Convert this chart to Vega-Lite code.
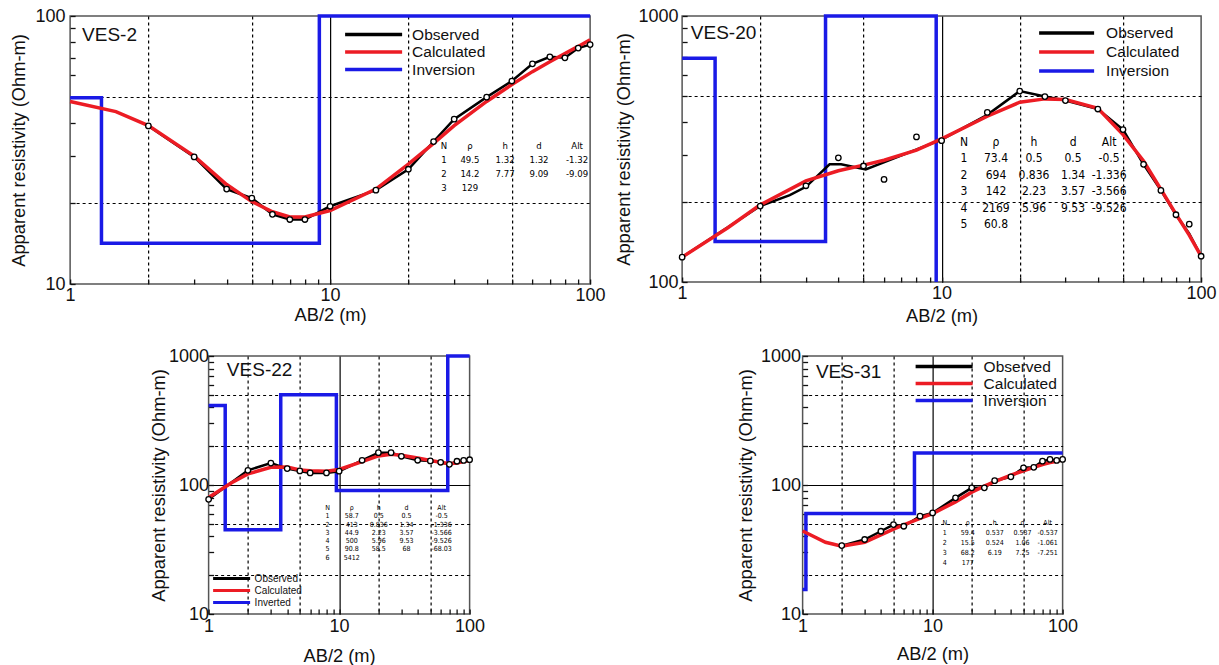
{
"$schema":"https://vega.github.io/schema/vega-lite/v6.json",
"padding":{"left":8,"top":6,"right":2,"bottom":2},
"background":"white",
"config":{"font":"Liberation Sans","view":{"stroke":"#555","strokeWidth":1.5},"axis":{"labelFontSize":18,"titleFontSize":18.3,"titleFontWeight":"normal","labelColor":"#111","titleColor":"#111","labelFont":"Liberation Sans","titleFont":"Liberation Sans","tickColor":"#111","tickWidth":1.3}},
"resolve":{"scale":{"color":"independent"},"legend":{"color":"independent"}},
"datasets":{
"d1":[
{"s":"Observed","x":2,"y":38.9},{"s":"Observed","x":3,"y":29.8},{"s":"Observed","x":4,"y":22.6},{"s":"Observed","x":5,"y":20.9},{"s":"Observed","x":6,"y":18.2},{"s":"Observed","x":7,"y":17.4},{"s":"Observed","x":8,"y":17.4},{"s":"Observed","x":10,"y":19.5},{"s":"Observed","x":15,"y":22.4},{"s":"Observed","x":20,"y":26.8},{"s":"Observed","x":25,"y":34},{"s":"Observed","x":30,"y":41.2},{"s":"Observed","x":40,"y":49.8},{"s":"Observed","x":50,"y":57.2},{"s":"Observed","x":60,"y":66.3},{"s":"Observed","x":70,"y":70.4},{"s":"Observed","x":80,"y":69.8},{"s":"Observed","x":90,"y":75.9},{"s":"Observed","x":100,"y":78.2},
{"s":"Calculated","x":1,"y":48},{"s":"Calculated","x":1.5,"y":44},{"s":"Calculated","x":2,"y":39},{"s":"Calculated","x":3,"y":30},{"s":"Calculated","x":4,"y":23.5},{"s":"Calculated","x":5,"y":20.3},{"s":"Calculated","x":6,"y":18.6},{"s":"Calculated","x":7,"y":17.8},{"s":"Calculated","x":8,"y":17.8},{"s":"Calculated","x":10,"y":18.8},{"s":"Calculated","x":15,"y":22.6},{"s":"Calculated","x":20,"y":28},{"s":"Calculated","x":25,"y":33.5},{"s":"Calculated","x":30,"y":39},{"s":"Calculated","x":40,"y":48},{"s":"Calculated","x":50,"y":55.5},{"s":"Calculated","x":60,"y":62},{"s":"Calculated","x":70,"y":67.5},{"s":"Calculated","x":80,"y":72.5},{"s":"Calculated","x":90,"y":77},{"s":"Calculated","x":100,"y":81.5},
{"s":"Inversion","x":1,"y":49.5},{"s":"Inversion","x":1.32,"y":14.2},{"s":"Inversion","x":9.09,"y":129},{"s":"Inversion","x":100,"y":129}
],
"d2":[
{"s":"Observed","x":1,"y":124},{"s":"Observed","x":2,"y":193},{"s":"Observed","x":2.6,"y":212},{"s":"Observed","x":3,"y":228},{"s":"Observed","x":3.7,"y":277},{"s":"Observed","x":4.1,"y":277},{"s":"Observed","x":5.1,"y":265},{"s":"Observed","x":10,"y":343},{"s":"Observed","x":15,"y":425},{"s":"Observed","x":20,"y":522},{"s":"Observed","x":25,"y":498},{"s":"Observed","x":30,"y":481},{"s":"Observed","x":40,"y":447},{"s":"Observed","x":50,"y":374},{"s":"Observed","x":60,"y":277},{"s":"Observed","x":70,"y":221},{"s":"Observed","x":80,"y":179},{"s":"Observed","x":90,"y":152},{"s":"Observed","x":100,"y":125},
{"s":"Observed points","x":1,"y":124},{"s":"Observed points","x":2,"y":193},{"s":"Observed points","x":3,"y":230},{"s":"Observed points","x":4,"y":293},{"s":"Observed points","x":5,"y":273},{"s":"Observed points","x":6,"y":243},{"s":"Observed points","x":8,"y":351},{"s":"Observed points","x":10,"y":340},{"s":"Observed points","x":15,"y":434},{"s":"Observed points","x":20,"y":522},{"s":"Observed points","x":25,"y":498},{"s":"Observed points","x":30,"y":481},{"s":"Observed points","x":40,"y":447},{"s":"Observed points","x":50,"y":374},{"s":"Observed points","x":60,"y":277},{"s":"Observed points","x":70,"y":221},{"s":"Observed points","x":80,"y":179},{"s":"Observed points","x":90,"y":165},{"s":"Observed points","x":100,"y":125},
{"s":"Calculated","x":1,"y":124},{"s":"Calculated","x":1.5,"y":160},{"s":"Calculated","x":2,"y":195},{"s":"Calculated","x":3,"y":240},{"s":"Calculated","x":4,"y":262},{"s":"Calculated","x":5,"y":275},{"s":"Calculated","x":6,"y":287},{"s":"Calculated","x":8,"y":313},{"s":"Calculated","x":10,"y":345},{"s":"Calculated","x":15,"y":420},{"s":"Calculated","x":20,"y":474},{"s":"Calculated","x":25,"y":488},{"s":"Calculated","x":30,"y":485},{"s":"Calculated","x":40,"y":450},{"s":"Calculated","x":50,"y":358},{"s":"Calculated","x":60,"y":285},{"s":"Calculated","x":70,"y":223},{"s":"Calculated","x":80,"y":180},{"s":"Calculated","x":90,"y":150},{"s":"Calculated","x":100,"y":125},
{"s":"Inversion","x":1,"y":694},{"s":"Inversion","x":1.34,"y":142},{"s":"Inversion","x":3.57,"y":2169},{"s":"Inversion","x":9.53,"y":60.8}
],
"d3":[
{"s":"Observed","x":1,"y":77.4},{"s":"Observed","x":2,"y":130},{"s":"Observed","x":3,"y":148},{"s":"Observed","x":4,"y":134},{"s":"Observed","x":5,"y":128.5},{"s":"Observed","x":6,"y":124},{"s":"Observed","x":8,"y":124},{"s":"Observed","x":10,"y":128},{"s":"Observed","x":15,"y":155.5},{"s":"Observed","x":20,"y":178},{"s":"Observed","x":25,"y":178},{"s":"Observed","x":30,"y":167},{"s":"Observed","x":40,"y":155.5},{"s":"Observed","x":50,"y":153.6},{"s":"Observed","x":60,"y":150},{"s":"Observed","x":70,"y":144.6},{"s":"Observed","x":80,"y":152.8},{"s":"Observed","x":90,"y":155},{"s":"Observed","x":100,"y":157},
{"s":"Calculated","x":1,"y":80},{"s":"Calculated","x":1.5,"y":104},{"s":"Calculated","x":2,"y":122},{"s":"Calculated","x":3,"y":137},{"s":"Calculated","x":4,"y":138},{"s":"Calculated","x":5,"y":131},{"s":"Calculated","x":6,"y":129},{"s":"Calculated","x":8,"y":128},{"s":"Calculated","x":10,"y":132},{"s":"Calculated","x":15,"y":152},{"s":"Calculated","x":20,"y":168},{"s":"Calculated","x":25,"y":173},{"s":"Calculated","x":30,"y":170},{"s":"Calculated","x":40,"y":162},{"s":"Calculated","x":50,"y":155},{"s":"Calculated","x":60,"y":150},{"s":"Calculated","x":70,"y":146},{"s":"Calculated","x":80,"y":148},{"s":"Calculated","x":90,"y":152},{"s":"Calculated","x":100,"y":155},
{"s":"Inverted","x":1,"y":413},{"s":"Inverted","x":1.34,"y":44.9},{"s":"Inverted","x":3.57,"y":500},{"s":"Inverted","x":9.53,"y":90.8},{"s":"Inverted","x":68,"y":5412},{"s":"Inverted","x":100,"y":5412}
],
"d4":[
{"s":"Observed","x":2,"y":33.9},{"s":"Observed","x":3,"y":37.8},{"s":"Observed","x":4,"y":43.8},{"s":"Observed","x":5,"y":49.3},{"s":"Observed","x":6,"y":47.9},{"s":"Observed","x":8,"y":57.3},{"s":"Observed","x":10,"y":60.8},{"s":"Observed","x":15,"y":79.5},{"s":"Observed","x":20,"y":95},{"s":"Observed","x":25,"y":95},{"s":"Observed","x":30,"y":108},{"s":"Observed","x":40,"y":115.7},{"s":"Observed","x":50,"y":136},{"s":"Observed","x":60,"y":137},{"s":"Observed","x":70,"y":153},{"s":"Observed","x":80,"y":157.8},{"s":"Observed","x":90,"y":155},{"s":"Observed","x":100,"y":157.8},
{"s":"Calculated","x":1,"y":44},{"s":"Calculated","x":1.5,"y":36},{"s":"Calculated","x":2,"y":33.5},{"s":"Calculated","x":3,"y":36},{"s":"Calculated","x":4,"y":41},{"s":"Calculated","x":5,"y":45.5},{"s":"Calculated","x":6,"y":49},{"s":"Calculated","x":8,"y":55},{"s":"Calculated","x":10,"y":60},{"s":"Calculated","x":15,"y":74},{"s":"Calculated","x":20,"y":88},{"s":"Calculated","x":25,"y":98},{"s":"Calculated","x":30,"y":106},{"s":"Calculated","x":40,"y":119},{"s":"Calculated","x":50,"y":129},{"s":"Calculated","x":60,"y":137},{"s":"Calculated","x":70,"y":144},{"s":"Calculated","x":80,"y":149},{"s":"Calculated","x":90,"y":153},{"s":"Calculated","x":100,"y":157},
{"s":"Inversion","x":1,"y":15.5},{"s":"Inversion","x":1.06,"y":60},{"s":"Inversion","x":7.25,"y":177},{"s":"Inversion","x":100,"y":177}
],
"tab":[
{"p":"VES-2","c":"N","t":"N\n1\n2\n3"},{"p":"VES-2","c":"rho","t":"ρ\n49.5\n14.2\n129"},{"p":"VES-2","c":"h","t":"h\n1.32\n7.77"},{"p":"VES-2","c":"d","t":"d\n1.32\n9.09"},{"p":"VES-2","c":"Alt","t":"Alt\n-1.32\n-9.09"},
{"p":"VES-20","c":"N","t":"N\n1\n2\n3\n4\n5"},{"p":"VES-20","c":"rho","t":"ρ\n73.4\n694\n142\n2169\n60.8"},{"p":"VES-20","c":"h","t":"h\n0.5\n0.836\n2.23\n5.96"},{"p":"VES-20","c":"d","t":"d\n0.5\n1.34\n3.57\n9.53"},{"p":"VES-20","c":"Alt","t":"Alt\n-0.5\n-1.336\n-3.566\n-9.526"},
{"p":"VES-22","c":"N","t":"N\n1\n2\n3\n4\n5\n6"},{"p":"VES-22","c":"rho","t":"ρ\n58.7\n413\n44.9\n500\n90.8\n5412"},{"p":"VES-22","c":"h","t":"h\n0.5\n0.836\n2.23\n5.96\n58.5"},{"p":"VES-22","c":"d","t":"d\n0.5\n1.34\n3.57\n9.53\n68"},{"p":"VES-22","c":"Alt","t":"Alt\n-0.5\n-1.336\n-3.566\n-9.526\n-68.03"},
{"p":"VES-31","c":"N","t":"N\n1\n2\n3\n4"},{"p":"VES-31","c":"rho","t":"ρ\n59.4\n15.5\n68.2\n177"},{"p":"VES-31","c":"h","t":"h\n0.537\n0.524\n6.19"},{"p":"VES-31","c":"d","t":"d\n0.537\n1.06\n7.25"},{"p":"VES-31","c":"Alt","t":"Alt\n-0.537\n-1.061\n-7.251"}
],
"names":[{"n":"VES-2"},{"n":"VES-20"},{"n":"VES-22"},{"n":"VES-31"}]
},
"vconcat":[
{"hconcat":[
{"width":520,"height":268,
"layer":[
{"data":{"name":"d1"},"transform":[{"filter":"datum.s=='Inversion'"}],"mark":{"type":"line","interpolate":"step-after","strokeWidth":3.5},"encoding":{
"x":{"field":"x","type":"quantitative","scale":{"type":"log","domain":[1,100],"nice":false},"axis":{"title":"AB/2 (m)","values":[1,2,3,4,5,6,7,8,9,10,20,30,40,50,60,70,80,90,100],"labelExpr":"indexof([1,10,100],datum.value)>=0 ? ''+datum.value : ''","labelFlush":false,"labelOverlap":false,"grid":true,"gridColor":"#000","gridWidth":1.2,"gridOpacity":{"condition":{"test":"indexof([2,5,10,20,50],datum.value)>=0","value":1},"value":0},"gridDash":{"condition":{"test":"datum.value==10","value":[]},"value":[3,3]},"tickSize":-5,"labelPadding":7,"titlePadding":2,"domain":false}},
"y":{"field":"y","type":"quantitative","scale":{"type":"log","domain":[10,100],"nice":false,"clamp":true},"axis":{"title":"Apparent resistivity (Ohm-m)","values":[10,20,30,40,50,60,70,80,90,100],"labelExpr":"indexof([10,100,1000],datum.value)>=0 ? ''+datum.value : ''","labelFlush":false,"labelOverlap":false,"grid":true,"gridColor":"#000","gridWidth":1.2,"gridOpacity":{"condition":{"test":"indexof([20,50,200,500],datum.value)>=0","value":1},"value":0},"gridDash":[3,3],"tickSize":-5,"labelPadding":10,"titlePadding":7,"domain":false}},
"color":{"field":"s","type":"nominal","scale":{"domain":["Observed","Calculated","Inversion"],"range":["#000000","#ec1c24","#1a1ae6"]},"legend":{"orient":"none","legendX":273,"legendY":11,"title":null,"symbolType":"stroke","symbolSize":3249,"symbolStrokeWidth":3.5,"clipHeight":15,"rowPadding":1.5,"labelFontSize":15.5,"labelOffset":8,"labelColor":"#111","padding":0}}}},
{"data":{"name":"d1"},"transform":[{"filter":"datum.s=='Observed'"}],"mark":{"type":"line","strokeWidth":2.5},"encoding":{"x":{"field":"x","type":"quantitative","scale":{"type":"log","domain":[1,100],"nice":false}},"y":{"field":"y","type":"quantitative","scale":{"type":"log","domain":[10,100],"nice":false,"clamp":true}},"color":{"field":"s","type":"nominal","scale":{"domain":["Observed","Calculated","Inversion"],"range":["#000000","#ec1c24","#1a1ae6"]}}}},
{"data":{"name":"d1"},"transform":[{"filter":"datum.s=='Calculated'"}],"mark":{"type":"line","strokeWidth":3.5},"encoding":{"x":{"field":"x","type":"quantitative","scale":{"type":"log","domain":[1,100],"nice":false}},"y":{"field":"y","type":"quantitative","scale":{"type":"log","domain":[10,100],"nice":false,"clamp":true}},"color":{"field":"s","type":"nominal","scale":{"domain":["Observed","Calculated","Inversion"],"range":["#000000","#ec1c24","#1a1ae6"]}}}},
{"data":{"name":"d1"},"transform":[{"filter":"datum.s=='Observed'"}],"mark":{"type":"point","shape":"circle","filled":true,"fill":"#ffffff","stroke":"#000000","strokeWidth":1.3,"size":30,"opacity":1},"encoding":{"x":{"field":"x","type":"quantitative","scale":{"type":"log","domain":[1,100],"nice":false}},"y":{"field":"y","type":"quantitative","scale":{"type":"log","domain":[10,100],"nice":false,"clamp":true}}}},
{"data":{"name":"names"},"transform":[{"filter":"datum.n=='VES-2'"}],"mark":{"type":"text","fontSize":19,"align":"left","baseline":"middle","color":"#111","opacity":1},"encoding":{"x":{"datum":1.112},"y":{"datum":84.9},"text":{"field":"n","type":"nominal"}}},
{"data":{"name":"tab"},"transform":[{"filter":"datum.p=='VES-2' && datum.c=='N'"}],"mark":{"type":"text","font":"DejaVu Sans Condensed, Liberation Sans, sans-serif","fontSize":9.5,"lineHeight":14,"lineBreak":"\n","align":"center","baseline":"top","color":"#000"},"encoding":{"x":{"datum":27.4},"y":{"datum":34.2},"text":{"field":"t","type":"nominal"}}},
{"data":{"name":"tab"},"transform":[{"filter":"datum.p=='VES-2' && datum.c=='rho'"}],"mark":{"type":"text","font":"DejaVu Sans Condensed, Liberation Sans, sans-serif","fontSize":9.5,"lineHeight":14,"lineBreak":"\n","align":"center","baseline":"top","color":"#000"},"encoding":{"x":{"datum":34.5},"y":{"datum":34.2},"text":{"field":"t","type":"nominal"}}},
{"data":{"name":"tab"},"transform":[{"filter":"datum.p=='VES-2' && datum.c=='h'"}],"mark":{"type":"text","font":"DejaVu Sans Condensed, Liberation Sans, sans-serif","fontSize":9.5,"lineHeight":14,"lineBreak":"\n","align":"center","baseline":"top","color":"#000"},"encoding":{"x":{"datum":47.1},"y":{"datum":34.2},"text":{"field":"t","type":"nominal"}}},
{"data":{"name":"tab"},"transform":[{"filter":"datum.p=='VES-2' && datum.c=='d'"}],"mark":{"type":"text","font":"DejaVu Sans Condensed, Liberation Sans, sans-serif","fontSize":9.5,"lineHeight":14,"lineBreak":"\n","align":"center","baseline":"top","color":"#000"},"encoding":{"x":{"datum":63.6},"y":{"datum":34.2},"text":{"field":"t","type":"nominal"}}},
{"data":{"name":"tab"},"transform":[{"filter":"datum.p=='VES-2' && datum.c=='Alt'"}],"mark":{"type":"text","font":"DejaVu Sans Condensed, Liberation Sans, sans-serif","fontSize":9.5,"lineHeight":14,"lineBreak":"\n","align":"center","baseline":"top","color":"#000"},"encoding":{"x":{"datum":89.1},"y":{"datum":34.2},"text":{"field":"t","type":"nominal"}}}
]},
{"width":519,"height":266,
"layer":[
{"data":{"name":"d2"},"transform":[{"filter":"datum.s=='Inversion'"}],"mark":{"type":"line","interpolate":"step-after","strokeWidth":3.5},"encoding":{
"x":{"field":"x","type":"quantitative","scale":{"type":"log","domain":[1,100],"nice":false},"axis":{"title":"AB/2 (m)","values":[1,2,3,4,5,6,7,8,9,10,20,30,40,50,60,70,80,90,100],"labelExpr":"indexof([1,10,100],datum.value)>=0 ? ''+datum.value : ''","labelFlush":false,"labelOverlap":false,"grid":true,"gridColor":"#000","gridWidth":1.2,"gridOpacity":{"condition":{"test":"indexof([2,5,10,20,50],datum.value)>=0","value":1},"value":0},"gridDash":{"condition":{"test":"datum.value==10","value":[]},"value":[3,3]},"tickSize":-5,"labelPadding":7,"titlePadding":5,"domain":false}},
"y":{"field":"y","type":"quantitative","scale":{"type":"log","domain":[100,1000],"nice":false,"clamp":true},"axis":{"title":"Apparent resistivity (Ohm-m)","values":[100,200,300,400,500,600,700,800,900,1000],"labelExpr":"indexof([10,100,1000],datum.value)>=0 ? ''+datum.value : ''","labelFlush":false,"labelOverlap":false,"grid":true,"gridColor":"#000","gridWidth":1.2,"gridOpacity":{"condition":{"test":"indexof([20,50,200,500],datum.value)>=0","value":1},"value":0},"gridDash":[3,3],"tickSize":-5,"labelPadding":9,"titlePadding":5,"domain":false}},
"color":{"field":"s","type":"nominal","scale":{"domain":["Observed","Calculated","Inversion"],"range":["#000000","#ec1c24","#1a1ae6"]},"legend":{"orient":"none","legendX":355,"legendY":9,"title":null,"symbolType":"stroke","symbolSize":3025,"symbolStrokeWidth":3.5,"clipHeight":16,"rowPadding":2,"labelFontSize":15.5,"labelOffset":10,"labelColor":"#111","padding":0}}}},
{"data":{"name":"d2"},"transform":[{"filter":"datum.s=='Observed'"}],"mark":{"type":"line","strokeWidth":2.5},"encoding":{"x":{"field":"x","type":"quantitative","scale":{"type":"log","domain":[1,100],"nice":false}},"y":{"field":"y","type":"quantitative","scale":{"type":"log","domain":[100,1000],"nice":false,"clamp":true}},"color":{"field":"s","type":"nominal","scale":{"domain":["Observed","Calculated","Inversion"],"range":["#000000","#ec1c24","#1a1ae6"]}}}},
{"data":{"name":"d2"},"transform":[{"filter":"datum.s=='Calculated'"}],"mark":{"type":"line","strokeWidth":3.5},"encoding":{"x":{"field":"x","type":"quantitative","scale":{"type":"log","domain":[1,100],"nice":false}},"y":{"field":"y","type":"quantitative","scale":{"type":"log","domain":[100,1000],"nice":false,"clamp":true}},"color":{"field":"s","type":"nominal","scale":{"domain":["Observed","Calculated","Inversion"],"range":["#000000","#ec1c24","#1a1ae6"]}}}},
{"data":{"name":"d2"},"transform":[{"filter":"datum.s=='Observed points'"}],"mark":{"type":"point","shape":"circle","filled":true,"fill":"#ffffff","stroke":"#000000","strokeWidth":1.3,"size":30,"opacity":1},"encoding":{"x":{"field":"x","type":"quantitative","scale":{"type":"log","domain":[1,100],"nice":false}},"y":{"field":"y","type":"quantitative","scale":{"type":"log","domain":[100,1000],"nice":false,"clamp":true}}}},
{"data":{"name":"names"},"transform":[{"filter":"datum.n=='VES-20'"}],"mark":{"type":"text","fontSize":19,"align":"left","baseline":"middle","color":"#111","opacity":1},"encoding":{"x":{"datum":1.08},"y":{"datum":863},"text":{"field":"n","type":"nominal"}}},
{"data":{"name":"tab"},"transform":[{"filter":"datum.p=='VES-20' && datum.c=='N'"}],"mark":{"type":"text","font":"DejaVu Sans Condensed, Liberation Sans, sans-serif","fontSize":12,"lineHeight":16.5,"lineBreak":"\n","align":"center","baseline":"top","color":"#000"},"encoding":{"x":{"datum":12.2},"y":{"datum":352},"text":{"field":"t","type":"nominal"}}},
{"data":{"name":"tab"},"transform":[{"filter":"datum.p=='VES-20' && datum.c=='rho'"}],"mark":{"type":"text","font":"DejaVu Sans Condensed, Liberation Sans, sans-serif","fontSize":12,"lineHeight":16.5,"lineBreak":"\n","align":"center","baseline":"top","color":"#000"},"encoding":{"x":{"datum":16.2},"y":{"datum":352},"text":{"field":"t","type":"nominal"}}},
{"data":{"name":"tab"},"transform":[{"filter":"datum.p=='VES-20' && datum.c=='h'"}],"mark":{"type":"text","font":"DejaVu Sans Condensed, Liberation Sans, sans-serif","fontSize":12,"lineHeight":16.5,"lineBreak":"\n","align":"center","baseline":"top","color":"#000"},"encoding":{"x":{"datum":22.7},"y":{"datum":352},"text":{"field":"t","type":"nominal"}}},
{"data":{"name":"tab"},"transform":[{"filter":"datum.p=='VES-20' && datum.c=='d'"}],"mark":{"type":"text","font":"DejaVu Sans Condensed, Liberation Sans, sans-serif","fontSize":12,"lineHeight":16.5,"lineBreak":"\n","align":"center","baseline":"top","color":"#000"},"encoding":{"x":{"datum":32.1},"y":{"datum":352},"text":{"field":"t","type":"nominal"}}},
{"data":{"name":"tab"},"transform":[{"filter":"datum.p=='VES-20' && datum.c=='Alt'"}],"mark":{"type":"text","font":"DejaVu Sans Condensed, Liberation Sans, sans-serif","fontSize":12,"lineHeight":16.5,"lineBreak":"\n","align":"center","baseline":"top","color":"#000"},"encoding":{"x":{"datum":44.2},"y":{"datum":352},"text":{"field":"t","type":"nominal"}}}
]}
],"spacing":7,"resolve":{"scale":{"color":"independent"},"legend":{"color":"independent"}}},
{"hconcat":[
{"width":261,"height":258,
"layer":[
{"data":{"name":"d3"},"transform":[{"filter":"datum.s=='Inverted'"}],"mark":{"type":"line","interpolate":"step-after","strokeWidth":3.5},"encoding":{
"x":{"field":"x","type":"quantitative","scale":{"type":"log","domain":[1,100],"nice":false},"axis":{"title":"AB/2 (m)","values":[1,2,3,4,5,6,7,8,9,10,20,30,40,50,60,70,80,90,100],"labelExpr":"indexof([1,10,100],datum.value)>=0 ? ''+datum.value : ''","labelFlush":false,"labelOverlap":false,"grid":true,"gridColor":"#000","gridWidth":1.2,"gridOpacity":{"condition":{"test":"indexof([2,5,10,20,50],datum.value)>=0","value":1},"value":0},"gridDash":{"condition":{"test":"datum.value==10","value":[]},"value":[3,3]},"tickSize":-5,"labelPadding":8,"titlePadding":12,"domain":false}},
"y":{"field":"y","type":"quantitative","scale":{"type":"log","domain":[10,1000],"nice":false,"clamp":true},"axis":{"title":"Apparent resistivity (Ohm-m)","values":[10,20,30,40,50,60,70,80,90,100,200,300,400,500,600,700,800,900,1000],"labelExpr":"indexof([10,100,1000],datum.value)>=0 ? ''+datum.value : ''","labelFlush":false,"labelOverlap":false,"grid":true,"gridColor":"#000","gridWidth":1.2,"gridOpacity":{"condition":{"test":"indexof([20,50,100,200,500],datum.value)>=0","value":1},"value":0},"gridDash":{"condition":{"test":"datum.value==100","value":[]},"value":[3,3]},"tickSize":-5,"labelPadding":5,"titlePadding":0,"domain":false}},
"color":{"field":"s","type":"nominal","scale":{"domain":["Observed","Calculated","Inverted"],"range":["#000000","#ec1c24","#1a1ae6"]},"legend":{"orient":"none","legendX":3,"legendY":217,"title":null,"symbolType":"stroke","symbolSize":1369,"symbolStrokeWidth":3,"clipHeight":11,"rowPadding":1,"labelFontSize":10,"labelOffset":3,"labelColor":"#111","padding":0}}}},
{"data":{"name":"d3"},"transform":[{"filter":"datum.s=='Observed'"}],"mark":{"type":"line","strokeWidth":2.5},"encoding":{"x":{"field":"x","type":"quantitative","scale":{"type":"log","domain":[1,100],"nice":false}},"y":{"field":"y","type":"quantitative","scale":{"type":"log","domain":[10,1000],"nice":false,"clamp":true}},"color":{"field":"s","type":"nominal","scale":{"domain":["Observed","Calculated","Inverted"],"range":["#000000","#ec1c24","#1a1ae6"]}}}},
{"data":{"name":"d3"},"transform":[{"filter":"datum.s=='Calculated'"}],"mark":{"type":"line","strokeWidth":3.5},"encoding":{"x":{"field":"x","type":"quantitative","scale":{"type":"log","domain":[1,100],"nice":false}},"y":{"field":"y","type":"quantitative","scale":{"type":"log","domain":[10,1000],"nice":false,"clamp":true}},"color":{"field":"s","type":"nominal","scale":{"domain":["Observed","Calculated","Inverted"],"range":["#000000","#ec1c24","#1a1ae6"]}}}},
{"data":{"name":"d3"},"transform":[{"filter":"datum.s=='Observed'"}],"mark":{"type":"point","shape":"circle","filled":true,"fill":"#ffffff","stroke":"#000000","strokeWidth":1.3,"size":30,"opacity":1},"encoding":{"x":{"field":"x","type":"quantitative","scale":{"type":"log","domain":[1,100],"nice":false}},"y":{"field":"y","type":"quantitative","scale":{"type":"log","domain":[10,1000],"nice":false,"clamp":true}}}},
{"data":{"name":"names"},"transform":[{"filter":"datum.n=='VES-22'"}],"mark":{"type":"text","fontSize":19,"align":"left","baseline":"middle","color":"#111","opacity":1},"encoding":{"x":{"datum":1.38},"y":{"datum":778},"text":{"field":"n","type":"nominal"}}},
{"data":{"name":"tab"},"transform":[{"filter":"datum.p=='VES-22' && datum.c=='N'"}],"mark":{"type":"text","font":"DejaVu Sans Condensed, Liberation Sans, sans-serif","fontSize":7,"lineHeight":8.3,"lineBreak":"\n","align":"center","baseline":"top","color":"#000"},"encoding":{"x":{"datum":8.16},"y":{"datum":71.3},"text":{"field":"t","type":"nominal"}}},
{"data":{"name":"tab"},"transform":[{"filter":"datum.p=='VES-22' && datum.c=='rho'"}],"mark":{"type":"text","font":"DejaVu Sans Condensed, Liberation Sans, sans-serif","fontSize":7,"lineHeight":8.3,"lineBreak":"\n","align":"center","baseline":"top","color":"#000"},"encoding":{"x":{"datum":12.5},"y":{"datum":71.3},"text":{"field":"t","type":"nominal"}}},
{"data":{"name":"tab"},"transform":[{"filter":"datum.p=='VES-22' && datum.c=='h'"}],"mark":{"type":"text","font":"DejaVu Sans Condensed, Liberation Sans, sans-serif","fontSize":7,"lineHeight":8.3,"lineBreak":"\n","align":"center","baseline":"top","color":"#000"},"encoding":{"x":{"datum":20.1},"y":{"datum":71.3},"text":{"field":"t","type":"nominal"}}},
{"data":{"name":"tab"},"transform":[{"filter":"datum.p=='VES-22' && datum.c=='d'"}],"mark":{"type":"text","font":"DejaVu Sans Condensed, Liberation Sans, sans-serif","fontSize":7,"lineHeight":8.3,"lineBreak":"\n","align":"center","baseline":"top","color":"#000"},"encoding":{"x":{"datum":32.9},"y":{"datum":71.3},"text":{"field":"t","type":"nominal"}}},
{"data":{"name":"tab"},"transform":[{"filter":"datum.p=='VES-22' && datum.c=='Alt'"}],"mark":{"type":"text","font":"DejaVu Sans Condensed, Liberation Sans, sans-serif","fontSize":7,"lineHeight":8.3,"lineBreak":"\n","align":"center","baseline":"top","color":"#000"},"encoding":{"x":{"datum":61},"y":{"datum":71.3},"text":{"field":"t","type":"nominal"}}}
]},
{"width":260,"height":258,
"layer":[
{"data":{"name":"d4"},"transform":[{"filter":"datum.s=='Inversion'"}],"mark":{"type":"line","interpolate":"step-after","strokeWidth":3.5},"encoding":{
"x":{"field":"x","type":"quantitative","scale":{"type":"log","domain":[1,100],"nice":false},"axis":{"title":"AB/2 (m)","values":[1,2,3,4,5,6,7,8,9,10,20,30,40,50,60,70,80,90,100],"labelExpr":"indexof([1,10,100],datum.value)>=0 ? ''+datum.value : ''","labelFlush":false,"labelOverlap":false,"grid":true,"gridColor":"#000","gridWidth":1.2,"gridOpacity":{"condition":{"test":"indexof([2,5,10,20,50],datum.value)>=0","value":1},"value":0},"gridDash":{"condition":{"test":"datum.value==10","value":[]},"value":[3,3]},"tickSize":-5,"labelPadding":8,"titlePadding":10,"domain":false}},
"y":{"field":"y","type":"quantitative","scale":{"type":"log","domain":[10,1000],"nice":false,"clamp":true},"axis":{"title":"Apparent resistivity (Ohm-m)","values":[10,20,30,40,50,60,70,80,90,100,200,300,400,500,600,700,800,900,1000],"labelExpr":"indexof([10,100,1000],datum.value)>=0 ? ''+datum.value : ''","labelFlush":false,"labelOverlap":false,"grid":true,"gridColor":"#000","gridWidth":1.2,"gridOpacity":{"condition":{"test":"indexof([20,50,100,200,500],datum.value)>=0","value":1},"value":0},"gridDash":{"condition":{"test":"datum.value==100","value":[]},"value":[3,3]},"tickSize":-5,"labelPadding":7,"titlePadding":5,"domain":false}},
"color":{"field":"s","type":"nominal","scale":{"domain":["Observed","Calculated","Inversion"],"range":["#000000","#ec1c24","#1a1ae6"]},"legend":{"orient":"none","legendX":111,"legendY":3,"title":null,"symbolType":"stroke","symbolSize":3249,"symbolStrokeWidth":3.5,"clipHeight":15,"rowPadding":1,"labelFontSize":15.5,"labelOffset":9,"labelColor":"#111","padding":0}}}},
{"data":{"name":"d4"},"transform":[{"filter":"datum.s=='Observed'"}],"mark":{"type":"line","strokeWidth":2.5},"encoding":{"x":{"field":"x","type":"quantitative","scale":{"type":"log","domain":[1,100],"nice":false}},"y":{"field":"y","type":"quantitative","scale":{"type":"log","domain":[10,1000],"nice":false,"clamp":true}},"color":{"field":"s","type":"nominal","scale":{"domain":["Observed","Calculated","Inversion"],"range":["#000000","#ec1c24","#1a1ae6"]}}}},
{"data":{"name":"d4"},"transform":[{"filter":"datum.s=='Calculated'"}],"mark":{"type":"line","strokeWidth":3.5},"encoding":{"x":{"field":"x","type":"quantitative","scale":{"type":"log","domain":[1,100],"nice":false}},"y":{"field":"y","type":"quantitative","scale":{"type":"log","domain":[10,1000],"nice":false,"clamp":true}},"color":{"field":"s","type":"nominal","scale":{"domain":["Observed","Calculated","Inversion"],"range":["#000000","#ec1c24","#1a1ae6"]}}}},
{"data":{"name":"d4"},"transform":[{"filter":"datum.s=='Observed'"}],"mark":{"type":"point","shape":"circle","filled":true,"fill":"#ffffff","stroke":"#000000","strokeWidth":1.3,"size":30,"opacity":1},"encoding":{"x":{"field":"x","type":"quantitative","scale":{"type":"log","domain":[1,100],"nice":false}},"y":{"field":"y","type":"quantitative","scale":{"type":"log","domain":[10,1000],"nice":false,"clamp":true}}}},
{"data":{"name":"names"},"transform":[{"filter":"datum.n=='VES-31'"}],"mark":{"type":"text","fontSize":19,"align":"left","baseline":"middle","color":"#111","opacity":1},"encoding":{"x":{"datum":1.266},"y":{"datum":755},"text":{"field":"n","type":"nominal"}}},
{"data":{"name":"tab"},"transform":[{"filter":"datum.p=='VES-31' && datum.c=='N'"}],"mark":{"type":"text","font":"DejaVu Sans Condensed, Liberation Sans, sans-serif","fontSize":7,"lineHeight":10,"lineBreak":"\n","align":"center","baseline":"top","color":"#000"},"encoding":{"x":{"datum":12.4},"y":{"datum":54.4},"text":{"field":"t","type":"nominal"}}},
{"data":{"name":"tab"},"transform":[{"filter":"datum.p=='VES-31' && datum.c=='rho'"}],"mark":{"type":"text","font":"DejaVu Sans Condensed, Liberation Sans, sans-serif","fontSize":7,"lineHeight":10,"lineBreak":"\n","align":"center","baseline":"top","color":"#000"},"encoding":{"x":{"datum":18.6},"y":{"datum":54.4},"text":{"field":"t","type":"nominal"}}},
{"data":{"name":"tab"},"transform":[{"filter":"datum.p=='VES-31' && datum.c=='h'"}],"mark":{"type":"text","font":"DejaVu Sans Condensed, Liberation Sans, sans-serif","fontSize":7,"lineHeight":10,"lineBreak":"\n","align":"center","baseline":"top","color":"#000"},"encoding":{"x":{"datum":30},"y":{"datum":54.4},"text":{"field":"t","type":"nominal"}}},
{"data":{"name":"tab"},"transform":[{"filter":"datum.p=='VES-31' && datum.c=='d'"}],"mark":{"type":"text","font":"DejaVu Sans Condensed, Liberation Sans, sans-serif","fontSize":7,"lineHeight":10,"lineBreak":"\n","align":"center","baseline":"top","color":"#000"},"encoding":{"x":{"datum":49.2},"y":{"datum":54.4},"text":{"field":"t","type":"nominal"}}},
{"data":{"name":"tab"},"transform":[{"filter":"datum.p=='VES-31' && datum.c=='Alt'"}],"mark":{"type":"text","font":"DejaVu Sans Condensed, Liberation Sans, sans-serif","fontSize":7,"lineHeight":10,"lineBreak":"\n","align":"center","baseline":"top","color":"#000"},"encoding":{"x":{"datum":76.7},"y":{"datum":54.4},"text":{"field":"t","type":"nominal"}}}
]}
],"spacing":250,"resolve":{"scale":{"color":"independent"},"legend":{"color":"independent"}}}
],
"spacing":20,
"center":true
}
